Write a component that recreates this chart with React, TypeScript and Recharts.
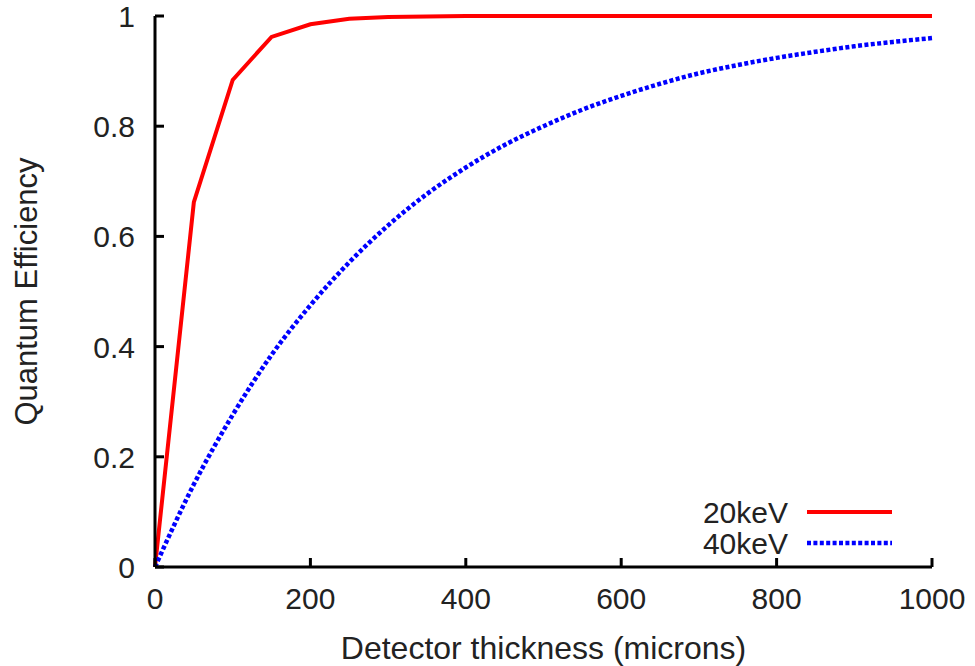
import { LineChart, Line, XAxis, YAxis } from "recharts";

const thickness = [0, 50, 100, 150, 200, 250, 300, 350, 400, 450, 500, 550, 600, 650, 700, 750, 800, 850, 900, 950, 1000];
const qe20keV = [0, 0.662, 0.884, 0.962, 0.985, 0.995, 0.998, 0.999, 1, 1, 1, 1, 1, 1, 1, 1, 1, 1, 1, 1, 1];
const qe40keV = [0, 0.15, 0.276, 0.385, 0.475, 0.553, 0.62, 0.677, 0.725, 0.766, 0.8, 0.83, 0.855, 0.877, 0.896, 0.911, 0.924, 0.935, 0.945, 0.953, 0.96];
const xTicks = [0, 200, 400, 600, 800, 1000];
const yTicks = [0, 0.2, 0.4, 0.6, 0.8, 1];

const series = [
  { key: "e20", name: "20keV", color: "#ff0000", dash: undefined as string | undefined, width: 4, curve: "linear" as const },
  { key: "e40", name: "40keV", color: "#0000ff", dash: "4 2.4", width: 4.5, curve: "monotone" as const },
];

const chartData = thickness.map((t, i) => ({ t, e20: qe20keV[i], e40: qe40keV[i] }));

const FONT = "'Liberation Sans', Arial, sans-serif";
const FS = 30;
const TICK_LEN = 9;

const BottomTick = (props: any) => {
  const { x, y, payload } = props;
  return (
    <g>
      <line x1={x} y1={y} x2={x} y2={y - TICK_LEN} stroke="#000" strokeWidth={3} />
      <text x={x} y={y + 42} textAnchor="middle" fontSize={FS} fontFamily={FONT} fill="#222">
        {payload.value}
      </text>
    </g>
  );
};

const LeftTick = (props: any) => {
  const { x, y, payload } = props;
  return (
    <g>
      <line x1={x} y1={y} x2={x + TICK_LEN} y2={y} stroke="#000" strokeWidth={3} />
      <text x={x - 20} y={y + 11} textAnchor="end" fontSize={FS} fontFamily={FONT} fill="#222">
        {payload.value}
      </text>
    </g>
  );
};

const TopTick = (props: any) => {
  const { x, y } = props;
  return <line x1={x} y1={y} x2={x} y2={y + TICK_LEN} stroke="#000" strokeWidth={3} />;
};

const RightTick = (props: any) => {
  const { x, y } = props;
  return <line x1={x} y1={y} x2={x - TICK_LEN} y2={y} stroke="#000" strokeWidth={3} />;
};

// legend drawn beside the chart so it doesn't eat plot space
const LegendBox = () => (
  <svg width={240} height={70} style={{ position: "absolute", left: 680, top: 495 }}>
    {series.map((s, i) => (
      <g key={s.key}>
        <text x={108} y={28 + i * 31} textAnchor="end" fontSize={FS} fontFamily={FONT} fill="#222">
          {s.name}
        </text>
        <line x1={127} y1={17 + i * 31} x2={212} y2={17 + i * 31} stroke={s.color} strokeWidth={s.width} strokeDasharray={s.dash} />
      </g>
    ))}
  </svg>
);

export default function App() {
  return (
    <div style={{ position: "absolute", left: 0, top: 0, width: 975, height: 666, background: "#fff" }}>
      <LineChart width={975} height={666} data={chartData} margin={{ top: 16, right: 43, bottom: 0, left: 0 }}>
        <XAxis
          dataKey="t"
          type="number"
          domain={[0, 1000]}
          ticks={xTicks}
          height={99}
          tickSize={0}
          tickMargin={0}
          tickLine={false}
          tick={<BottomTick />}
          axisLine={{ stroke: "#000", strokeWidth: 3 }}
          label={{ value: "Detector thickness (microns)", position: "center", dy: 31, fontSize: 32, fontFamily: FONT, fill: "#222" }}
        />
        <XAxis
          xAxisId="top"
          orientation="top"
          dataKey="t"
          type="number"
          domain={[0, 1000]}
          ticks={xTicks}
          height={0}
          tickSize={0}
          tickMargin={0}
          tickLine={false}
          tick={<TopTick />}
          axisLine={{ stroke: "#000", strokeWidth: 3 }}
        />
        <YAxis
          type="number"
          domain={[0, 1]}
          ticks={yTicks}
          width={155}
          tickSize={0}
          tickMargin={0}
          tickLine={false}
          tick={<LeftTick />}
          axisLine={{ stroke: "#000", strokeWidth: 3 }}
          label={{ value: "Quantum Efficiency", angle: -90, position: "center", dx: -52, fontSize: 31, fontFamily: FONT, fill: "#222" }}
        />
        <YAxis
          yAxisId="right"
          orientation="right"
          type="number"
          domain={[0, 1]}
          ticks={yTicks}
          width={0}
          tickSize={0}
          tickMargin={0}
          tickLine={false}
          tick={<RightTick />}
          axisLine={{ stroke: "#000", strokeWidth: 3 }}
        />
        {series.map((s) => (
          <Line
            key={s.key}
            type={s.curve}
            dataKey={s.key}
            name={s.name}
            stroke={s.color}
            strokeWidth={s.width}
            strokeDasharray={s.dash}
            dot={false}
            activeDot={false}
            isAnimationActive={false}
          />
        ))}
      </LineChart>
      <LegendBox />
    </div>
  );
}
